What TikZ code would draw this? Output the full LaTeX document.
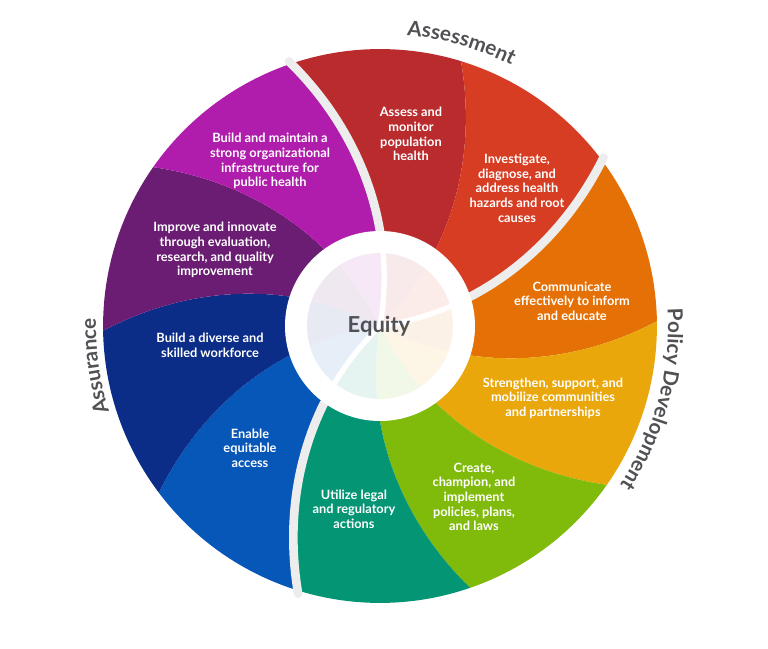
\documentclass[tikz,border=0pt]{standalone}
\usepackage{fontspec}
\setmainfont{Lato}
\usetikzlibrary{decorations.text}

%% slice colours, clockwise from the top
\definecolor{svcA}{HTML}{BA2B2E}
\definecolor{svcB}{HTML}{D73D23}
\definecolor{svcC}{HTML}{E57005}
\definecolor{svcD}{HTML}{E9A70B}
\definecolor{svcE}{HTML}{80BB0C}
\definecolor{svcF}{HTML}{039574}
\definecolor{svcG}{HTML}{0757B8}
\definecolor{svcH}{HTML}{0B2D87}
\definecolor{svcI}{HTML}{6A1D73}
\definecolor{svcJ}{HTML}{B01CAB}
\definecolor{gapgray}{HTML}{EDEDEE}
\definecolor{labelgray}{HTML}{515155}

\tikzset{
  service/.style={text=white, align=center, font=\bfseries\fontsize{9.6}{11}\selectfont},
  gapline/.style={draw=gapgray, line width=6.5pt, line cap=round},
  domainlabel/.style={decorate, decoration={text along path, text align=center, text color=labelgray}}
}

\begin{document}
\begin{tikzpicture}[x=0.75pt,y=0.75pt]
	\useasboundingbox (-380,-323) rectangle (388,326);

	%% Outer wheel: ten spiral slices of 36 degrees
	% \ang is the outer angle of the slice's left edge
	\foreach \k/\col in {0/svcA,1/svcB,2/svcC,3/svcD,4/svcE,5/svcF,6/svcG,7/svcH,8/svcI,9/svcJ}
	{
	  \pgfmathsetmacro{\ang}{109-36*\k}
	  \fill[\col] plot[domain=0:1, variable=\pos, samples=30] ({\ang-20.6*(1-\pos)}:{80+197*\pos})
	    arc[start angle=\ang, end angle=\ang-36, radius=277]
	    -- plot[domain=0:1, variable=\pos, samples=30] ({\ang-36-20.6*\pos}:{277-197*\pos}) -- cycle;
	}

	%% Gaps between the three domains
	\foreach \ang in {109,37,-107}
	  \draw[gapline] plot[domain=0:1, variable=\pos, samples=30] ({\ang-19*(1-\pos)}:{95+185*\pos});

	%% White ring and pale centre disc
	\fill[white] (0,0) circle[radius=95];
	\foreach \k/\col in {0/svcA,1/svcB,2/svcC,3/svcD,4/svcE,5/svcF,6/svcG,7/svcH,8/svcI,9/svcJ}
	{
	  \pgfmathsetmacro{\ang}{109-36*\k}
	  \fill[\col!10] plot[domain=0:1, variable=\pos, samples=15] ({\ang-28.9+7.6*\pos}:{73*\pos})
	    arc[start angle=\ang-21.3, end angle=\ang-57.3, radius=73]
	    -- plot[domain=0:1, variable=\pos, samples=15] ({\ang-57.3-7.6*\pos}:{73-73*\pos}) -- cycle;
	}
	\foreach \ang in {109,37,-107}
	  \draw[white, line width=4pt] plot[domain=0:1, variable=\pos, samples=15] ({\ang-28.9+7.6*\pos}:{75*\pos});

	\node[font=\bfseries\fontsize{16.5}{16.5}\selectfont, text=labelgray] (equity) at (-1,0) {Equity};

	%% Slice texts
	\node[service] (s1) at (31,192) {Assess and\\monitor\\population\\health};
	\node[service] (s2) at (137,138) {Investigate,\\diagnose, and\\address health\\hazards and root\\causes};
	\node[service] (s3) at (192,25) {Communicate\\effectively to inform\\and educate};
	\node[service] (s4) at (173,-72) {Strengthen, support, and\\mobilize communities\\and partnerships};
	\node[service] (s5) at (94,-171) {Create,\\champion, and\\implement\\policies, plans,\\and laws};
	\node[service] (s6) at (-26,-183) {Utilize legal\\and regulatory\\actions};
	\node[service] (s7) at (-130,-122) {Enable\\equitable\\access};
	\node[service] (s8) at (-170,-19) {Build a diverse and\\skilled workforce};
	\node[service] (s9) at (-165,76) {Improve and innovate\\through evaluation,\\research, and quality\\improvement};
	\node[service] (s10) at (-110,165) {Build and maintain a\\strong organizational\\infrastructure for\\public health};

	%% Domain names round the rim
	\path[domainlabel, decoration={text={|\bfseries\fontsize{15.5}{15.5}\selectfont|Assessment}}]
	  (114:292) arc[start angle=114, end angle=34, radius=292];
	\path[domainlabel, decoration={text={|\bfseries\fontsize{15.5}{15.5}\selectfont|Policy Development}}]
	  (25:288) arc[start angle=25, end angle=-55, radius=288];
	\path[domainlabel, decoration={text={|\bfseries\fontsize{15.5}{15.5}\selectfont|Assurance}}]
	  (228:284) arc[start angle=228, end angle=148, radius=284];
\end{tikzpicture}
\end{document}
